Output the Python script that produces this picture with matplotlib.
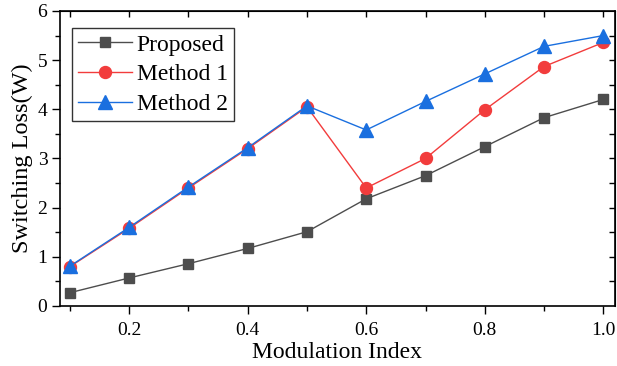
import matplotlib
matplotlib.use('Agg')
from matplotlib import pyplot as plt
from matplotlib.ticker import MultipleLocator

plt.rcParams['font.family'] = ['Liberation Serif', 'DejaVu Serif']
plt.rcParams['mathtext.fontset'] = 'stix'

# modulation index and switching loss of the three schemes
m_index = [0.1, 0.2, 0.3, 0.4, 0.5, 0.6, 0.7, 0.8, 0.9, 1.0]
proposed = [0.27, 0.57, 0.86, 1.17, 1.51, 2.18, 2.65, 3.24, 3.83, 4.20]
method1 = [0.80, 1.58, 2.40, 3.20, 4.05, 2.40, 3.00, 3.99, 4.87, 5.36]
method2 = [0.81, 1.60, 2.42, 3.22, 4.07, 3.58, 4.16, 4.72, 5.28, 5.50]
x_ticks = [0.2, 0.4, 0.6, 0.8, 1.0]

fig = plt.figure(figsize=(6.17, 3.66), dpi=100)
ax = fig.add_axes([0.097, 0.164, 0.900, 0.806])

ax.plot(m_index, proposed, color='#4d4d4d', lw=1.0, marker='s', ms=7.2, label='Proposed')
ax.plot(m_index, method1, color='#f23c3c', lw=1.0, marker='o', ms=8.6, label='Method 1')
ax.plot(m_index, method2, color='#1a6fdf', lw=1.0, marker='^', ms=10.5, label='Method 2')

ax.set_xlim(0.083, 1.02)
ax.set_ylim(0, 6)
ax.set_xticks(x_ticks)
ax.set_xticklabels(['%.1f' % t for t in x_ticks])
ax.xaxis.set_minor_locator(MultipleLocator(0.1))
ax.yaxis.set_major_locator(MultipleLocator(1))
ax.yaxis.set_minor_locator(MultipleLocator(0.5))

ax.tick_params(which='both', direction='out', top=False, right=False, labelsize=14, width=1.0)
ax.tick_params(which='major', length=5.5)
ax.tick_params(which='minor', length=3.5)
ax.tick_params(axis='x', which='major', pad=6)
for s in ax.spines.values():
    s.set_linewidth(1.2)

# inward ticks on the top and right borders
sec_x = ax.secondary_xaxis('top')
sec_x.set_xticks([0.1 * i for i in range(1, 11)])
sec_x.tick_params(direction='in', length=4, labeltop=False, width=1.0)
sec_y = ax.secondary_yaxis('right')
sec_y.set_yticks([0.5 * i for i in range(1, 12)])
sec_y.tick_params(direction='in', length=4, labelright=False, width=1.0)

ax.set_xlabel('Modulation Index', fontsize=17, labelpad=2)
ax.set_ylabel('Switching Loss(W)', fontsize=17.5, labelpad=3)

leg = ax.legend(loc='upper left', fontsize=17, frameon=True, fancybox=False,
                edgecolor='black', handlelength=2.3, borderpad=0.25,
                labelspacing=0.35, handletextpad=0.2, borderaxespad=0,
                bbox_to_anchor=(0.0216, 0.942))
leg.get_frame().set_linewidth(1.0)

fig.savefig('out.png', dpi=100)
